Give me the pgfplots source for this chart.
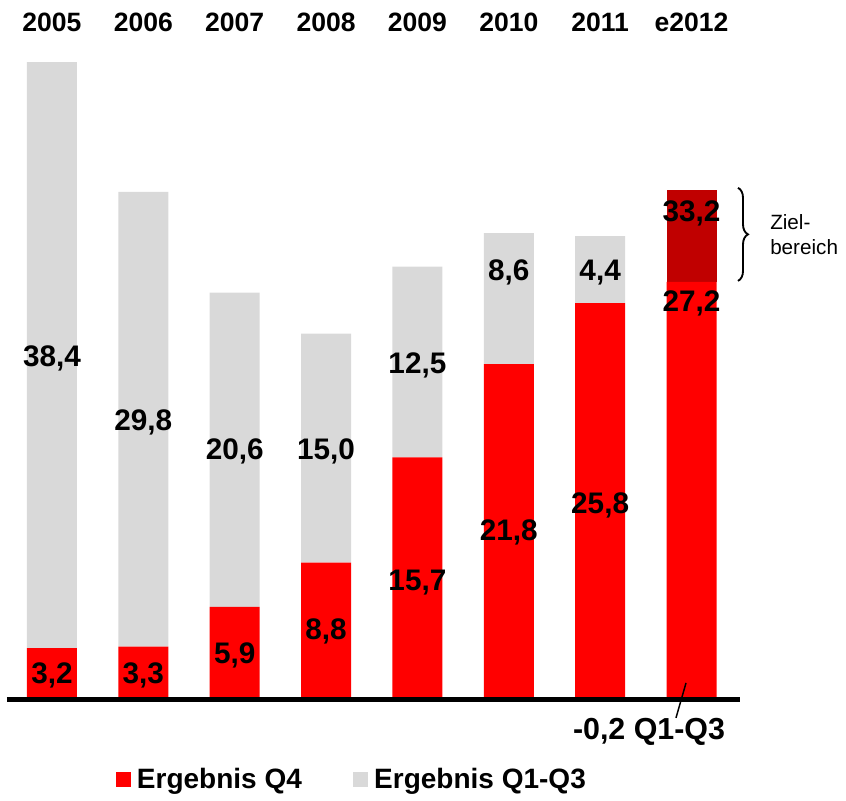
\documentclass[border=0pt]{standalone}
\usepackage{pgfplots}
\pgfplotsset{compat=1.18}
\usepackage{fontspec}
\setmainfont{Liberation Sans}
\usetikzlibrary{decorations.pathreplacing}
\definecolor{qred}{HTML}{FF0000}
\definecolor{qgrey}{HTML}{D9D9D9}
\definecolor{qdark}{HTML}{C00000}
\tikzset{yl/.style={font=\fontsize{19.9}{22}\selectfont\bfseries, anchor=center},
  vl/.style={font=\fontsize{22.3}{26}\selectfont\bfseries, anchor=center}}
\begin{document}
\begin{tikzpicture}
\begin{axis}[
  scale only axis,
  width=634.5pt, height=600.7pt,
  xmin=-0.569, xmax=8.691, ymin=-6.815, ymax=45.67,
  axis lines=none, ticks=none,
  clip=false,
  ybar stacked, bar width=37.5pt,
  legend image code/.code={\fill[#1] (0pt,-5.6pt) rectangle (11.25pt,5.6pt);},
  legend style={at={(axis cs:0.7005,-5.41)}, anchor=west, draw=none, fill=none,
    inner sep=0pt, outer sep=0pt, legend columns=2,
    font=\fontsize{21}{24}\selectfont\bfseries,
    nodes={inner xsep=4.5pt, inner ysep=0pt},
    /tikz/every even column/.append style={column sep=34pt}},
  legend cell align=left,
]
\addplot[fill=qred, draw=none] coordinates {(0,3.2) (1,3.3) (2,5.9) (3,8.8) (4,15.7) (5,21.8) (6,25.8) (7,27.2)};
\addlegendentry{Ergebnis Q4}
\addplot[fill=qgrey, draw=none] coordinates {(0,38.4) (1,29.8) (2,20.6) (3,15.0) (4,12.5) (5,8.6) (6,4.4) (7,0)};
\addlegendentry{Ergebnis Q1-Q3}
\addplot[fill=qdark, draw=none, forget plot] coordinates {(0,0) (1,0) (2,0) (3,0) (4,0) (5,0) (6,0) (7,6.0)};

\coordinate (base1) at (axis cs:-0.4925,-0.16);
\coordinate (base2) at (axis cs:7.531,-0.16);
\coordinate (y0) at (axis cs:0,44.23);
\coordinate (y1) at (axis cs:1,44.23);
\coordinate (y2) at (axis cs:2,44.23);
\coordinate (y3) at (axis cs:3,44.23);
\coordinate (y4) at (axis cs:4,44.23);
\coordinate (y5) at (axis cs:5,44.23);
\coordinate (y6) at (axis cs:6,44.23);
\coordinate (y7) at (axis cs:7,44.23);
\coordinate (g0) at (axis cs:0,22.2);
\coordinate (g1) at (axis cs:1,18.0);
\coordinate (g2) at (axis cs:2,16.1);
\coordinate (g3) at (axis cs:3,16.1);
\coordinate (g4) at (axis cs:4,21.7);
\coordinate (g5) at (axis cs:5,27.8);
\coordinate (g6) at (axis cs:6,27.8);
\coordinate (g7) at (axis cs:7,31.7);
\coordinate (r0) at (axis cs:0,1.44);
\coordinate (r1) at (axis cs:1,1.44);
\coordinate (r2) at (axis cs:2,2.75);
\coordinate (r3) at (axis cs:3,4.26);
\coordinate (r4) at (axis cs:4,7.47);
\coordinate (r5) at (axis cs:5,10.75);
\coordinate (r6) at (axis cs:6,12.58);
\coordinate (r7) at (axis cs:7,25.8);
\coordinate (br1) at (axis cs:7.509,33.36);
\coordinate (br2) at (axis cs:7.509,27.26);
\coordinate (zt) at (axis cs:7.859,30.28);
\coordinate (q1) at (axis cs:6.94,0.917);
\coordinate (q2) at (axis cs:6.83,-1.376);
\coordinate (qt) at (axis cs:6.535,-2.29);
\coordinate (bl) at (axis cs:-0.569,-6.815);
\coordinate (tr) at (axis cs:8.691,45.67);
\end{axis}
% baseline
\draw[line width=3.75pt, black] (base1) -- (base2);
% year labels
\node[yl] at (y0) {2005};
\node[yl] at (y1) {2006};
\node[yl] at (y2) {2007};
\node[yl] at (y3) {2008};
\node[yl] at (y4) {2009};
\node[yl] at (y5) {2010};
\node[yl] at (y6) {2011};
\node[yl] at (y7) {e2012};
% value labels
\node[vl] at (g0) {38,4};
\node[vl] at (g1) {29,8};
\node[vl] at (g2) {20,6};
\node[vl] at (g3) {15,0};
\node[vl] at (g4) {12,5};
\node[vl] at (g5) {8,6};
\node[vl] at (g6) {4,4};
\node[vl] at (g7) {33,2};
\node[vl] at (r0) {3,2};
\node[vl] at (r1) {3,3};
\node[vl] at (r2) {5,9};
\node[vl] at (r3) {8,8};
\node[vl] at (r4) {15,7};
\node[vl] at (r5) {21,8};
\node[vl] at (r6) {25,8};
\node[vl] at (r7) {27,2};
% Zielbereich brace
\draw[line width=1.4pt, decorate, decoration={brace, amplitude=7.5pt}] (br1) -- (br2);
\node[font=\fontsize{15.5}{18.75}\selectfont, anchor=west, align=left, inner sep=0pt] at (zt) {Ziel-\\bereich};
% Q1-Q3 annotation
\draw[line width=1.1pt] (q1) -- (q2);
\node[font=\fontsize{22.8}{26}\selectfont\bfseries, anchor=center] at (qt) {-0,2 Q1-Q3};
\pgfresetboundingbox
\useasboundingbox (bl) rectangle (tr);
\end{tikzpicture}
\end{document}
